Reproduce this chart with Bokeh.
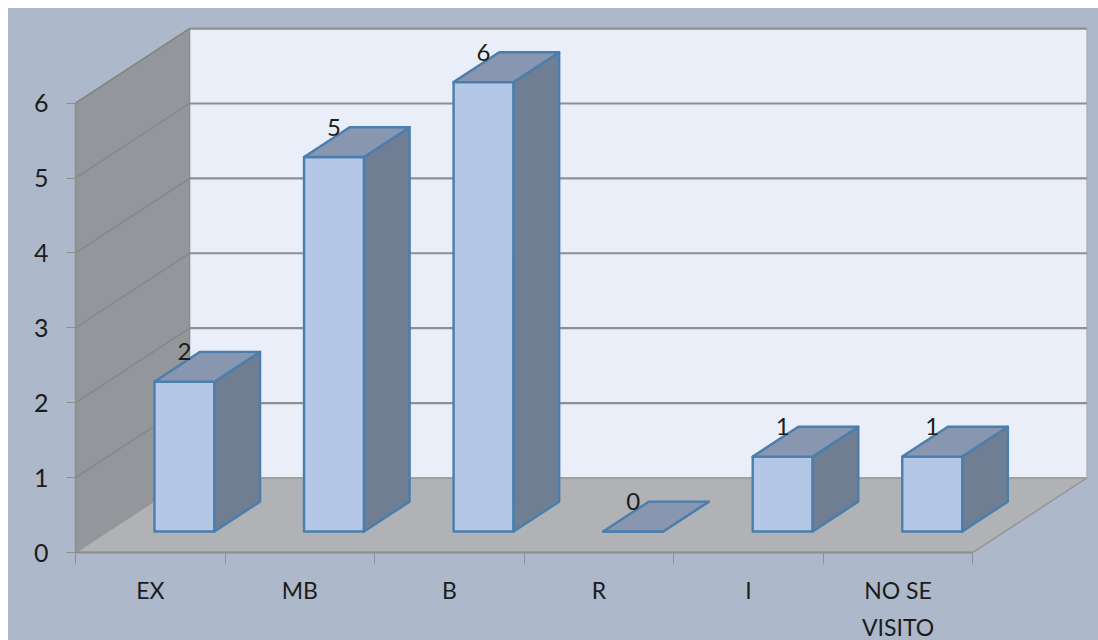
from bokeh.plotting import figure
from bokeh.models import Range1d, FixedTicker, LinearAxis, ColumnDataSource
from bokeh.core.properties import value
from bokeh.embed import file_html
from bokeh.resources import INLINE

categories = ["EX", "MB", "B", "R", "I", "NO SE\nVISITO"]
counts = [2, 5, 6, 0, 1, 1]
y_ticks = [0, 1, 2, 3, 4, 5, 6]

BG = "#adb9ca"
FONT = "Lato"
TEXT = "#1c1c1c"
AXIS = "#8e8e8e"

# oblique projection: one full depth unit shifts by (DX, DY) in data units
DX, DY = 0.7625, 0.9955
GAP, BAR_W, D0, D1 = 0.313, 0.401, 0.282, 0.682


def pt(x, y, d):
    return x + d * DX, y + d * DY


def poly(*corners):
    pts = [pt(*c) for c in corners]
    return [a for a, _ in pts], [b for _, b in pts]


n = len(categories)
ymax = max(y_ticks)

p = figure(width=1090, height=632, output_backend="svg", toolbar_location=None,
           x_range=Range1d(0, 6.8), y_range=Range1d(0, 7.05),
           x_axis_type=None, y_axis_type=None,
           min_border_left=67, min_border_right=6, min_border_top=16, min_border_bottom=88)
p.styles = {"margin-left": "8px", "margin-top": "8px", "background-color": BG}
p.grid.visible = False
p.outline_line_color = None
p.background_fill_color = None
p.border_fill_color = None

# walls and floor
xs, ys = poly((0, 0, 1), (n, 0, 1), (n, ymax, 1), (0, ymax, 1))
p.patch(xs, ys, fill_color="#e9eef9", line_color="#a8aab0", line_width=1)
xs, ys = poly((0, 0, 0), (0, 0, 1), (0, ymax, 1), (0, ymax, 0))
p.patch(xs, ys, fill_color="#93969a", line_color="#8e8e8e", line_width=1.5)
xs, ys = poly((0, 0, 0), (n, 0, 0), (n, 0, 1), (0, 0, 1))
p.patch(xs, ys, fill_color="#b0b2b6", line_color="#979797", line_width=1.5)

# gridlines on the two walls
for t in y_ticks[1:]:
    xs, ys = poly((0, t, 1), (n, t, 1))
    p.line(xs, ys, line_color="#8f8f93", line_width=2.2)
    xs, ys = poly((0, t, 0), (0, t, 1))
    p.line(xs, ys, line_color="#858585", line_width=1.3)

# bars
for face, col in (("front", "#b4c7e7"), ("side", "#6f7e93"), ("top", "#8896b0")):
    fx, fy = [], []
    for i, v in enumerate(counts):
        l = i + GAP
        r = l + BAR_W
        if face == "front":
            a, b = poly((l, 0, D0), (r, 0, D0), (r, v, D0), (l, v, D0))
        elif face == "side":
            a, b = poly((r, 0, D0), (r, 0, D1), (r, v, D1), (r, v, D0))
        else:
            a, b = poly((l, v, D0), (r, v, D0), (r, v, D1), (l, v, D1))
        fx.append(a)
        fy.append(b)
    p.patches(fx, fy, fill_color=col, line_color="#4a7ead", line_width=2.4, line_join="round")

# value labels: centred over the front face, level with the back edge of the top
src = ColumnDataSource(dict(
    x=[pt(i + GAP + BAR_W / 2, v, D0)[0] for i, v in enumerate(counts)],
    y=[pt(i + GAP + BAR_W / 2, v, D1)[1] for i, v in enumerate(counts)],
    t=[str(v) for v in counts]))
p.text("x", "y", text="t", source=src, text_font=value(FONT), text_font_size="24px",
       text_color=TEXT, text_align="center", text_baseline="middle")

# axes
yax = LinearAxis(ticker=FixedTicker(ticks=y_ticks), bounds=(0, ymax))
yax.major_tick_out = 9
yax.major_tick_in = 0
yax.minor_tick_out = 0
yax.minor_tick_in = 0
yax.major_tick_line_color = AXIS
yax.axis_line_color = AXIS
yax.axis_line_width = 1.5
yax.major_label_text_font = FONT
yax.major_label_text_font_size = "25px"
yax.major_label_text_color = TEXT
yax.major_label_standoff = 18
p.add_layout(yax, "left")

centres = [i + 0.5 for i in range(n)]
edges = list(range(n + 1))
xax = LinearAxis(ticker=FixedTicker(ticks=[], minor_ticks=edges), bounds=(0, n))
xax.major_tick_out = 0
xax.major_tick_in = 0
xax.minor_tick_out = 11
xax.minor_tick_in = 0
xax.minor_tick_line_color = AXIS
xax.axis_line_color = AXIS
xax.axis_line_width = 2
p.add_layout(xax, "below")

# category labels sit below the frame, so they are drawn on the unclipped overlay level
cat_src = ColumnDataSource(dict(x=centres, y=[0] * n, t=categories))
p.text("x", "y", text="t", source=cat_src, level="overlay", y_offset=23,
       text_font=value(FONT), text_font_size="23px", text_color=TEXT,
       text_align="center", text_baseline="top", text_line_height=1.33)

open("out.html", "w").write(file_html(p, INLINE))
